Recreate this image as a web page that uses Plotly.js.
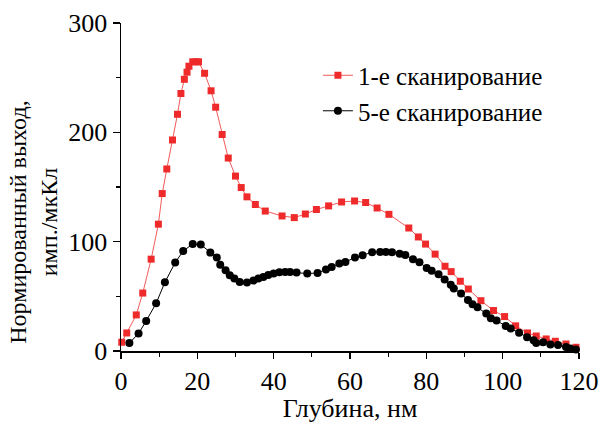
<!DOCTYPE html>
<html>
<head>
<meta charset="utf-8">
<script src="https://cdn.plot.ly/plotly-3.0.1.min.js"></script>
<style>html,body{margin:0;padding:0;background:#fff;}#chart{width:600px;height:423px;}</style>
</head>
<body>
<div id="chart"></div>
<script>
// Depth, nm and normalized yield (counts/µC)
const scan1Name = '1-е сканирование';
const scan1Depth = [0.2,1.5,4.0,5.7,7.9,9.8,10.8,12.0,13.5,14.8,15.7,16.6,17.3,17.8,18.8,19.7,20.3,21.9,23.6,24.8,26.5,28.1,30.0,31.5,33.0,35.2,37.8,42.2,45.4,48.3,51.2,54.4,57.8,61.2,64.1,67.1,70.2,75.4,77.9,79.8,82.3,84.9,86.5,88.9,91.0,94.3,97.6,100.5,103.4,106.5,108.8,111.4,113.8,116.6,119.2];
const scan1Yield = [8,16.5,33,53,84,116,144,166.5,193,216.5,235.5,248.5,255,260.5,264.5,264.5,264.5,254,238,223,198,176.5,160,149.5,141,134,128,123.5,122,125.3,129.4,132.7,136.3,137.2,135.8,130.8,125,112.5,104.3,97.8,88.6,77.5,72.6,63.8,56.7,46,37,31.5,23,16.5,13.7,11,8.9,6.4,3.4];

const scan5Name = '5-е сканирование';
const scan5Depth = [2.2,4.6,6.6,9.2,11.5,14.2,16.3,18.8,20.9,23.4,25.1,26.0,27.4,28.5,29.7,31.1,33.0,34.7,36.0,37.3,38.6,40.0,41.5,43.0,44.3,46.0,48.8,51.5,53.7,55.2,57.2,58.8,61.3,63.3,65.8,67.9,69.4,71.0,73.0,74.5,76.5,78.2,80.1,81.4,83.2,84.8,86.4,87.2,89.1,90.9,92.1,93.4,95.7,96.9,98.4,100.8,102.1,104.3,106.4,108.1,108.8,110.6,112.5,114.5,116.6,117.7,119.2];
const scan5Yield = [7.3,16,27.5,43.6,62.8,80.9,91.5,97.9,97.3,90,85.5,79,73.8,69.3,66.2,63.1,62.6,64.4,66.2,67.7,69.5,70.8,72,72.3,72.3,71.7,70.8,71.4,74.5,76.9,80,81.4,85.5,87.6,90.3,90.6,90.6,90.3,89,87.8,83.9,81.2,76,73.5,70.1,65.3,60.7,57.1,52.5,46.7,42.7,40,34.2,29.9,27.8,22.9,20.5,16.8,12.5,9.8,7.3,8,5.9,5.5,3.7,2.2,1.3];

const xTitle = 'Глубина, нм';
const yTitle = 'Нормированный выход,<br>имп./мкКл';
const xRange = [0, 120];
const yRange = [0, 300];

const FONT = "'Liberation Serif', 'Times New Roman', serif";

const traces = [
  {
    x: scan1Depth, y: scan1Yield, name: scan1Name, type: 'scatter', mode: 'lines+markers',
    line: {color: '#f25a5a', width: 1},
    marker: {symbol: 'square', size: 7, color: '#ee2a2a'},
    cliponaxis: false
  },
  {
    x: scan5Depth, y: scan5Yield, name: scan5Name, type: 'scatter', mode: 'lines+markers',
    line: {color: '#000000', width: 1},
    marker: {symbol: 'circle', size: 8, color: '#000000'},
    cliponaxis: false
  }
];

const axisCommon = {
  showline: true, linecolor: '#000', linewidth: 1.5, showgrid: false, zeroline: false,
  tickcolor: '#000', tickwidth: 1.2
};

const layout = {
  width: 600, height: 423,
  margin: {l: 121, r: 21, t: 23, b: 72},
  paper_bgcolor: '#fff', plot_bgcolor: '#fff',
  font: {family: FONT, color: '#000', size: 26},
  showlegend: true,
  legend: {
    x: 0.43, y: 0.91, xanchor: 'left', yanchor: 'top',
    bgcolor: 'rgba(0,0,0,0)', font: {family: FONT, size: 25, color: '#000'},
    tracegroupgap: 0
  },
  xaxis: Object.assign({}, axisCommon, {
    range: xRange, ticks: 'outside', ticklen: 6, dtick: 20, tick0: 0,
    minor: {ticks: 'outside', ticklen: 4, dtick: 10, tickcolor: '#000', tickwidth: 1.2},
    tickfont: {family: FONT, size: 26, color: '#000'},
    title: {text: xTitle, font: {family: FONT, size: 26, color: '#000'}, standoff: 10}
  }),
  yaxis: Object.assign({}, axisCommon, {
    range: yRange, ticks: 'outside', ticklen: 7, dtick: 100, tick0: 0,
    minor: {ticks: 'outside', ticklen: 4, dtick: 50, tickcolor: '#000', tickwidth: 1.2},
    tickfont: {family: FONT, size: 26, color: '#000'}
  }),
  xaxis2: Object.assign({}, axisCommon, {
    range: xRange, overlaying: 'x', side: 'top', ticks: 'inside', ticklen: 5, dtick: 10,
    showticklabels: false, anchor: 'y'
  }),
  yaxis2: Object.assign({}, axisCommon, {
    range: yRange, overlaying: 'y', side: 'right', ticks: 'inside', ticklen: 6, dtick: 50,
    showticklabels: false, anchor: 'x'
  }),
  annotations: [{
    text: yTitle, xref: 'paper', yref: 'paper', x: -0.19, y: 0.394,
    xanchor: 'center', yanchor: 'middle', textangle: -90, showarrow: false,
    font: {family: FONT, size: 24, color: '#000'}
  }]
};

Plotly.newPlot('chart', traces, layout, {displayModeBar: false, staticPlot: true});
</script>
</body>
</html>
